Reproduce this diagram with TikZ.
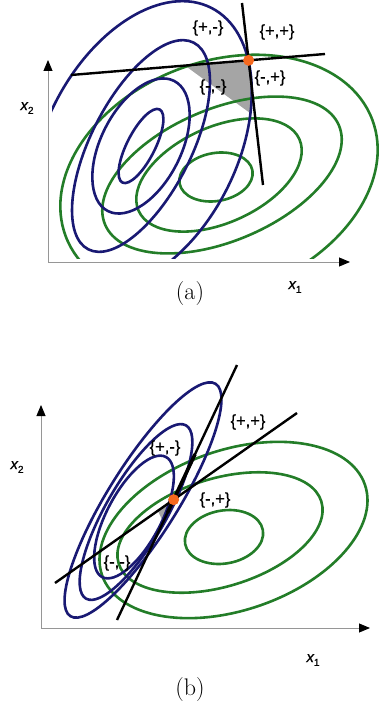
\documentclass[tikz,border=0pt]{standalone}
\usepackage{fontspec}
\newfontfamily\labfont[FakeBold=0.6]{Liberation Sans}
\usetikzlibrary{calc,arrows.meta}
\definecolor{cblue}{RGB}{25,25,115}
\definecolor{cgreen}{RGB}{35,125,40}
\definecolor{corange}{RGB}{245,105,30}
\definecolor{cgray}{RGB}{165,165,165}
\definecolor{axisgray}{RGB}{150,150,150}
\tikzset{
  bc/.style={draw=cblue, line width=2.6pt},
  gc/.style={draw=cgreen, line width=2.6pt},
  sepline/.style={draw=black, line width=2.4pt},
  axline/.style={draw=axisgray, line width=0.9pt, -{Triangle[black,width=9pt,length=11pt]}},
  lab/.style={font=\labfont\fontsize{16.5}{16.5}\selectfont, inner sep=0pt},
  axlab/.style={font=\labfont\itshape\fontsize{15}{15}\selectfont, inner sep=0pt},
  capt/.style={font=\fontsize{24}{24}\selectfont, inner sep=0pt},
  odot/.style={circle, fill=corange, minimum size=11pt, inner sep=0pt},
  region/.style={fill=cgray},
}
\newcommand{\contourell}[6]{\draw[#1, rotate around={#6:(#2,#3)}] (#2,#3) ellipse [x radius=#4pt, y radius=#5pt];}
\begin{document}
\begin{tikzpicture}[x=1pt,y=-1pt]
\useasboundingbox (0,0) rectangle (379,711);
% ---------------- panel (a) ----------------
\coordinate (oa) at (48,262);
\coordinate (ya) at (48,60);
\coordinate (xa) at (350,262);
\coordinate (la1) at (71,75);
\coordinate (la2) at (325,54);
\coordinate (ma1) at (242,3);
\coordinate (ma2) at (263,185);
\coordinate (pa) at (intersection of la1--la2 and ma1--ma2);
\fill[region] (185,65.6) -- (pa) -- (250,75) -- (250.8,93) -- (250,113) -- cycle;
\begin{scope}
\clip (52,0) rectangle (379,258);
\contourell{gc}{216}{177}{37}{24}{10}
\contourell{gc}{219}{175}{88}{48}{24}
\contourell{gc}{222}{175}{127}{66}{23}
\contourell{gc}{219}{178}{164}{116}{21}
\contourell{bc}{141}{146}{41}{14}{63}
\contourell{bc}{141}{146}{73}{40}{63}
\contourell{bc}{141}{146}{116}{50}{63}
\contourell{bc}{141}{146}{155}{96}{63}
\end{scope}
\draw[sepline] (la1) -- (la2);
\draw[sepline] (ma1) -- (ma2);
\node[odot] (da) at (pa) {};
\draw[axline] (oa) -- (ya);
\draw[axline] (oa) -- (xa);
\node[lab] (a1) at (208,28) {\{+,-\}};
\node[lab] (a2) at (277,32) {\{+,+\}};
\node[lab] (a3) at (270,78) {\{-,+\}};
\node[lab] (a4) at (213,87) {\{-,-\}};
\node[axlab] (ax2) at (27,108) {x\raisebox{-0.25em}{\upshape\fontsize{10}{10}\selectfont 2}};
\node[axlab] (ax1) at (295,287) {x\raisebox{-0.25em}{\upshape\fontsize{10}{10}\selectfont 1}};
\node[capt] (ca) at (190,294) {(a)};
% ---------------- panel (b) ----------------
\coordinate (ob) at (41,628);
\coordinate (yb) at (41,405);
\coordinate (xb) at (370,628);
\coordinate (lb1) at (55,583);
\coordinate (lb2) at (297,413);
\coordinate (mb1) at (117,620);
\coordinate (mb2) at (237,365);
\coordinate (pb) at (intersection of lb1--lb2 and mb1--mb2);
\fill[region] (pb) -- (158,511) -- (163,522) -- cycle;
\begin{scope}
\clip (44,350) rectangle (379,625);
\contourell{gc}{224}{537}{39.5}{26.5}{10}
\contourell{gc}{220}{532.5}{106}{54}{17}
\contourell{gc}{233.5}{530}{139}{80}{19}
\contourell{bc}{134}{517}{68}{27}{62}
\contourell{bc}{136}{512}{100}{30}{60}
\contourell{bc}{143}{500}{137}{35}{58}
\end{scope}
\draw[sepline] (lb1) -- (lb2);
\draw[sepline] (mb1) -- (mb2);
\draw[black, line width=3.6pt] ($(mb1)!0.42!(mb2)$) -- ($(mb1)!0.65!(mb2)$);
\node[odot] (db) at (pb) {};
\draw[axline] (ob) -- (yb);
\draw[axline] (ob) -- (xb);
\node[lab] (b1) at (248,422) {\{+,+\}};
\node[lab] (b2) at (165,448) {\{+,-\}};
\node[lab] (b3) at (215,500) {\{-,+\}};
\node[lab] (b4) at (117,563) {\{-,-\}};
\node[axlab] (bx2) at (17,467) {x\raisebox{-0.25em}{\upshape\fontsize{10}{10}\selectfont 2}};
\node[axlab] (bx1) at (313,660) {x\raisebox{-0.25em}{\upshape\fontsize{10}{10}\selectfont 1}};
\node[capt] (cb) at (190,690) {(b)};
\end{tikzpicture}
\end{document}
